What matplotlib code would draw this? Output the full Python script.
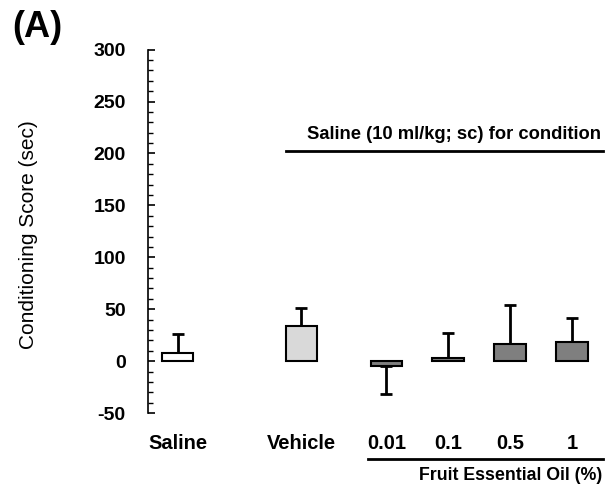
import matplotlib
matplotlib.use("Agg")
import matplotlib.pyplot as plt
from matplotlib.ticker import MultipleLocator

plt.rcParams['font.family'] = ['Liberation Sans', 'DejaVu Sans']
plt.rcParams['axes.unicode_minus'] = False

# data
groups = ['Saline', 'Vehicle', '0.01', '0.1', '0.5', '1']
scores = [7.4, 33.7, -4.8, 2.6, 17.0, 18.3]
sem = [19.0, 17.8, 26.6, 24.8, 37.0, 23.5]
colors = ['white', '#d9d9d9', '#7f7f7f', '#7f7f7f', '#7f7f7f', '#7f7f7f']
xpos = [0, 2, 3.375, 4.375, 5.375, 6.375]

fig = plt.figure(figsize=(6.1, 4.86), dpi=100)
ax = fig.add_axes([0.2426, 0.150, 0.746, 0.748])

# one-sided error bars (up for positive, down for negative)
lower = [s if v < 0 else 0 for v, s in zip(scores, sem)]
upper = [0 if v < 0 else s for v, s in zip(scores, sem)]
ax.errorbar(xpos, scores, yerr=[lower, upper], fmt='none', ecolor='black',
            elinewidth=2, capsize=4.5, capthick=2, zorder=1)
ax.bar(xpos, scores, width=0.51, color=colors, edgecolor='black',
       linewidth=1.5, zorder=2)

ax.set_xlim(-0.48, 6.88)
ax.set_ylim(-50, 300)
ax.yaxis.set_major_locator(MultipleLocator(50))
ax.yaxis.set_minor_locator(MultipleLocator(10))
ax.tick_params(axis='y', which='major', direction='in', length=5, width=1.2,
               pad=16, labelsize=14)
ax.tick_params(axis='y', which='minor', direction='in', length=3.5, width=1.0)
for lab in ax.get_yticklabels():
    lab.set_fontweight('bold')

ax.set_xticks(xpos)
ax.set_xticklabels(groups, fontweight='bold', fontsize=14.5)
ax.tick_params(axis='x', length=0, pad=15)

for s in ['top', 'right', 'bottom']:
    ax.spines[s].set_visible(False)
ax.spines['left'].set_linewidth(1.2)

ax.set_ylabel('Conditioning Score (sec)', fontsize=15, va='center')
ax.yaxis.set_label_coords(-0.262, 0.49)

# condition annotation
ax.plot([1.75, 6.88], [202.5, 202.5], color='black', lw=2, clip_on=False)
ax.text(2.09, 218.5, 'Saline (10 ml/kg; sc) for condition', fontsize=13.2,
        fontweight='bold', va='center', ha='left')

# dose bracket
ax.plot([3.08, 6.88], [-94, -94], color='black', lw=2, clip_on=False)
ax.text(6.87, -110, 'Fruit Essential Oil (%)', fontsize=12.8, fontweight='bold',
        va='center', ha='right', clip_on=False)

fig.text(0.02, 0.944, '(A)', fontsize=26, fontweight='bold', va='center')

fig.savefig('out.png', dpi=100)
